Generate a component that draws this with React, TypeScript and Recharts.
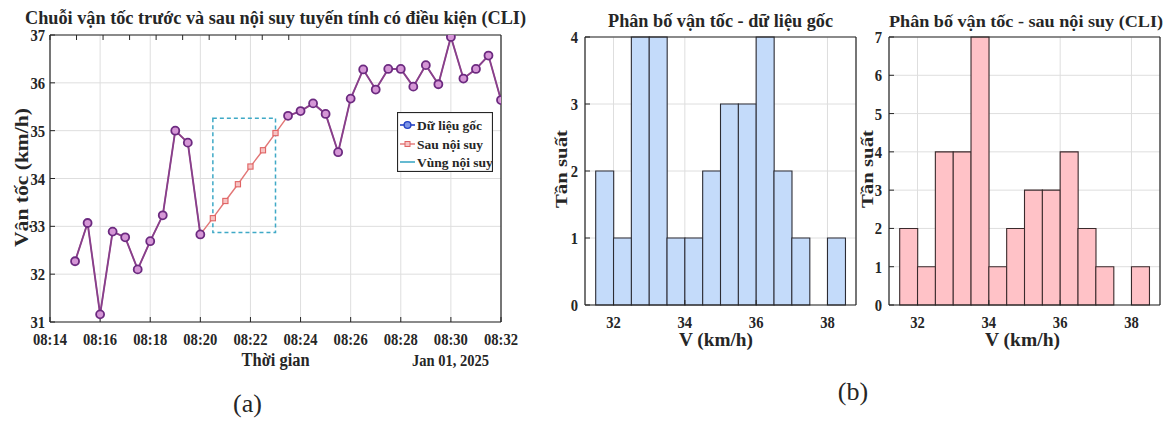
import React from 'react';
import {
  LineChart, Line, XAxis, YAxis, CartesianGrid, ReferenceArea, Legend,
  BarChart, Bar,
} from 'recharts';

const SERIF = '"Liberation Serif", "Times New Roman", "DejaVu Serif", serif';
const INK = '#262626';
const GRID = '#dedede';

// ---------- (a) time series ----------
const timeLabels = [
  '08:15:00', '08:15:30', '08:16:00', '08:16:30', '08:17:00', '08:17:30', '08:18:00', '08:18:30',
  '08:19:00', '08:19:30', '08:20:00', '08:20:30', '08:21:00', '08:21:30', '08:22:00', '08:22:30',
  '08:23:00', '08:23:30', '08:24:00', '08:24:30', '08:25:00', '08:25:30', '08:26:00', '08:26:30',
  '08:27:00', '08:27:30', '08:28:00', '08:28:30', '08:29:00', '08:29:30', '08:30:00', '08:30:30',
  '08:31:00', '08:31:30', '08:32:00',
];
const originalSpeed: (number | null)[] = [
  32.27, 33.07, 31.16, 32.89, 32.77, 32.10, 32.69, 33.23,
  35.00, 34.75, 32.83, null, null, null, null, null,
  null, 35.31, 35.41, 35.57, 35.35, 34.55, 35.67, 36.28,
  35.86, 36.29, 36.29, 35.92, 36.37, 35.97, 36.96, 36.09,
  36.29, 36.57, 35.64,
];
const cliSpeed = [
  32.27, 33.07, 31.16, 32.89, 32.77, 32.10, 32.69, 33.23,
  35.00, 34.75, 32.83, 33.17, 33.53, 33.88, 34.25, 34.59,
  34.95, 35.31, 35.41, 35.57, 35.35, 34.55, 35.67, 36.28,
  35.86, 36.29, 36.29, 35.92, 36.37, 35.97, 36.96, 36.09,
  36.29, 36.57, 35.64,
];
const timeOrigin = '08:14:00';
const xTickLabels = ['08:14', '08:16', '08:18', '08:20', '08:22', '08:24', '08:26', '08:28', '08:30', '08:32'];
const yTicksA = [31, 32, 33, 34, 35, 36, 37];
const regionStart = '08:20:30';
const regionEnd = '08:23:00';
const regionLow = 32.87;
const regionHigh = 35.26;
const seriesNames = ['Dữ liệu gốc', 'Sau nội suy', 'Vùng nội suy'];

// ---------- (b) histograms ----------
const binCenters = [31.75, 32.25, 32.75, 33.25, 33.75, 34.25, 34.75, 35.25, 35.75, 36.25, 36.75, 37.25, 37.75, 38.25];
const origCounts = [2, 1, 4, 4, 1, 1, 2, 3, 3, 4, 2, 1, 0, 1];
const cliCounts = [2, 1, 4, 4, 7, 1, 2, 3, 3, 4, 2, 1, 0, 1];
const histXTicks = [32, 34, 36, 38];
const histYTicksOrig = [0, 1, 2, 3, 4];
const histYTicksCli = [0, 1, 2, 3, 4, 5, 6, 7];

const toSec = (s: string) => {
  const [h, m, sec] = s.split(':').map(Number);
  return h * 3600 + m * 60 + (sec || 0);
};
const toMin = (s: string) => (toSec(s) - toSec(timeOrigin)) / 60;
const xTickValues = xTickLabels.map((l) => toMin(l + ':00'));

const lineData = timeLabels.map((t, i) => ({
  t: toMin(t),
  orig: originalSpeed[i],
  cli: cliSpeed[i],
}));
const histOrig = binCenters.map((c, i) => ({ v: c, n: origCounts[i] }));
const histCli = binCenters.map((c, i) => ({ v: c, n: cliCounts[i] }));

const C_ORIG = '#86408e';
const C_CLI = '#e27676';
const C_REGION = '#3fa9c6';

// squeezed serif text helper
const SText = ({ x, y, size, anchor = 'middle', weight = 'bold', rotate = false, sx = 1, len, children }: any) => (
  <text
    transform={rotate ? `translate(${x},${y}) rotate(-90) scale(1,${sx})` : `translate(${x},${y}) scale(${sx},1)`}
    textAnchor={anchor}
    fontFamily={SERIF}
    fontWeight={weight}
    fontSize={size}
    fill={INK}
    {...(len ? { textLength: len, lengthAdjust: 'spacingAndGlyphs' } : {})}
  >
    {children}
  </text>
);

const tickFactory = (fmt: (v: number) => string, dx: number, dy: number, anchor: string) => (props: any) => {
  const { x, y, payload, index } = props;
  return (
    <text
      key={`tk-${index}-${payload.value}`}
      transform={`translate(${x + dx},${y + dy}) scale(0.86,1)`}
      textAnchor={anchor}
      fontFamily={SERIF}
      fontWeight="bold"
      fontSize={17}
      fill={INK}
    >
      {fmt(payload.value)}
    </text>
  );
};
const noTick = () => null;

const fmtTime = (v: number) => {
  const i = xTickValues.findIndex((tv) => Math.abs(tv - v) < 1e-6);
  return i >= 0 ? xTickLabels[i] : '';
};
const fmtNum = (v: number) => String(v);

const cliDot = (props: any) => {
  const { cx, cy, index } = props;
  if (originalSpeed[index] != null || cx == null) return <g key={`cd-${index}`} />;
  return (
    <rect key={`cd-${index}`} x={cx - 2.6} y={cy - 2.6} width={5.2} height={5.2}
      fill="#f6c3c3" stroke="#e06464" strokeWidth={1.1} />
  );
};

const LegendBox = () => (
  <svg width={96} height={60} style={{ display: 'block' }}>
    <rect x={0.5} y={0.5} width={95} height={59} fill="#fff" stroke={INK} strokeWidth={1.2} />
    <line x1={3} x2={18} y1={13} y2={13} stroke="#2442c4" strokeWidth={1.6} />
    <circle cx={10.5} cy={13} r={3.4} fill="#7d95e6" stroke="#2442c4" strokeWidth={1.4} />
    <text x={20} y={17.5} fontFamily={SERIF} fontWeight="bold" fontSize={13.5} fill={INK}>{seriesNames[0]}</text>
    <line x1={3} x2={18} y1={32} y2={32} stroke={C_CLI} strokeWidth={1.4} />
    <rect x={8} y={29.5} width={5} height={5} fill="#f6c3c3" stroke="#e06464" strokeWidth={1} />
    <text x={20} y={36.5} fontFamily={SERIF} fontWeight="bold" fontSize={13.5} fill={INK}>{seriesNames[1]}</text>
    <line x1={3} x2={18} y1={50} y2={50} stroke={C_REGION} strokeWidth={1.6} />
    <text x={20} y={54.5} fontFamily={SERIF} fontWeight="bold" fontSize={13.5} fill={INK}>{seriesNames[2]}</text>
  </svg>
);

const axisLine = { stroke: INK, strokeWidth: 1.2 };
const tickLine = { stroke: INK, strokeWidth: 1 };

const Histogram = ({ data, yTicks, fill, stroke }: any) => (
  <BarChart width={330} height={380} data={data}
    margin={{ top: 36, right: 13, bottom: 45, left: 5 }}
    barCategoryGap={0} barGap={0}>
    <CartesianGrid stroke={GRID} strokeWidth={1} />
    <XAxis dataKey="v" type="number" domain={[31.2, 38.8]} ticks={histXTicks} allowDataOverflow
      height={30} interval={0} tickSize={-5} tickMargin={5}
      axisLine={axisLine} tickLine={tickLine} tick={tickFactory(fmtNum, 0, 23, 'middle')} />
    <XAxis xAxisId="top" orientation="top" type="number" domain={[31.2, 38.8]} ticks={histXTicks} allowDataOverflow
      height={1} interval={0} tickSize={-5} axisLine={axisLine} tickLine={tickLine} tick={noTick} />
    <YAxis type="number" domain={[0, yTicks[yTicks.length - 1]]} ticks={yTicks} width={40} interval={0}
      tickSize={-5} tickMargin={5} axisLine={axisLine} tickLine={tickLine}
      tick={tickFactory(fmtNum, -7, 6, 'end')} />
    <YAxis yAxisId="right" orientation="right" type="number" domain={[0, yTicks[yTicks.length - 1]]} ticks={yTicks}
      width={1} interval={0} tickSize={-5} axisLine={axisLine} tickLine={tickLine} tick={noTick} />
    <Bar dataKey="n" fill={fill} stroke={stroke} strokeWidth={1.1} isAnimationActive={false} />
  </BarChart>
);

export default function App() {
  const xDom = [xTickValues[0], xTickValues[xTickValues.length - 1]];
  return (
    <div style={{ position: 'absolute', left: 0, top: 0, width: 1174, height: 428, overflow: 'hidden', background: '#fff' }}>
      <div style={{ position: 'absolute', left: 0, top: 0 }}>
        <LineChart width={520} height={380} data={lineData}
          margin={{ top: 34, right: 18, bottom: 28, left: 10 }}>
          <CartesianGrid stroke={GRID} strokeWidth={1} />
          <XAxis dataKey="t" type="number" domain={xDom} ticks={xTickValues} allowDataOverflow
            height={30} interval={0} tickSize={-5} tickMargin={5}
            axisLine={axisLine} tickLine={tickLine} tick={tickFactory(fmtTime, 0, 23, 'middle')} />
          <XAxis xAxisId="top" orientation="top" type="number" domain={xDom} ticks={xTickValues} allowDataOverflow
            height={1} interval={0} tickSize={-5} axisLine={axisLine} tickLine={tickLine} tick={noTick} />
          <YAxis type="number" domain={[31, 37]} ticks={yTicksA} width={40} interval={0} allowDataOverflow
            tickSize={-5} tickMargin={5} axisLine={axisLine} tickLine={tickLine}
            tick={tickFactory(fmtNum, -5, 6, 'end')} />
          <YAxis yAxisId="right" orientation="right" type="number" domain={[31, 37]} ticks={yTicksA}
            width={1} interval={0} tickSize={-5} axisLine={axisLine} tickLine={tickLine} tick={noTick} />
          <ReferenceArea x1={toMin(regionStart)} x2={toMin(regionEnd)} y1={regionLow} y2={regionHigh}
            fill="none" fillOpacity={0} stroke={C_REGION} strokeWidth={1.5} strokeDasharray="4 3" />
          <Line dataKey="cli" stroke={C_CLI} strokeWidth={1.4} dot={cliDot} activeDot={false}
            isAnimationActive={false} />
          <Line dataKey="orig" stroke={C_ORIG} strokeWidth={1.9} connectNulls={false}
            dot={{ r: 4, fill: '#d596d6', stroke: '#6c2a80', strokeWidth: 1.8 }} activeDot={false}
            isAnimationActive={false} />
          <Legend layout="vertical" align="center" verticalAlign="middle" content={LegendBox}
            wrapperStyle={{ left: 397, top: 112, width: 96, height: 60 }} />
        </LineChart>
      </div>
      <div style={{ position: 'absolute', left: 540, top: 0 }}>
        <Histogram data={histOrig} yTicks={histYTicksOrig} fill="#c4dbfa" stroke="#2c2c34" />
      </div>
      <div style={{ position: 'absolute', left: 844, top: 0 }}>
        <Histogram data={histCli} yTicks={histYTicksCli} fill="#ffc2c7" stroke="#3a2a2c" />
      </div>
      <svg width={1174} height={428} style={{ position: 'absolute', left: 0, top: 0, pointerEvents: 'none' }}>
        <SText x={275.5} y={23.5} size={18} len={501}>Chuỗi vận tốc trước và sau nội suy tuyến tính có điều kiện (CLI)</SText>
        <SText x={28} y={177.5} size={21} rotate sx={0.85} len={139}>Vận tốc (km/h)</SText>
        <SText x={275.6} y={366} size={18} len={68}>Thời gian</SText>
        <SText x={450.5} y={366} size={16} len={77}>Jan 01, 2025</SText>
        <SText x={247.5} y={412} size={26} weight="normal">(a)</SText>
        <SText x={720.5} y={27} size={18} len={225}>Phân bố vận tốc - dữ liệu gốc</SText>
        <SText x={1026} y={27} size={17} len={274}>Phân bố vận tốc - sau nội suy (CLI)</SText>
        <SText x={567} y={169} size={20} rotate sx={0.85} len={78}>Tần suất</SText>
        <SText x={873} y={169} size={20} rotate sx={0.85} len={78}>Tần suất</SText>
        <SText x={716} y={346} size={19} len={74}>V (km/h)</SText>
        <SText x={1022.5} y={346} size={19} len={75}>V (km/h)</SText>
        <SText x={853} y={400} size={26} weight="normal">(b)</SText>
      </svg>
    </div>
  );
}
